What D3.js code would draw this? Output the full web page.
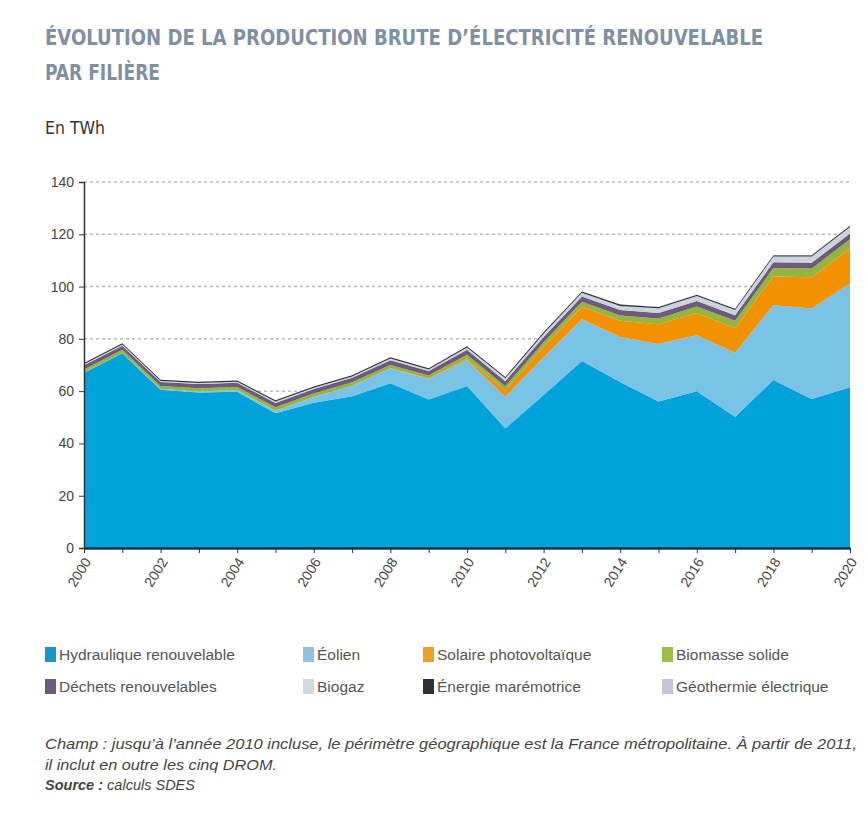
<!DOCTYPE html>
<html>
<head>
<meta charset="utf-8">
<script src="https://cdn.jsdelivr.net/npm/d3@7"></script>
<style>
  body { margin: 0; background: #fff; }
  svg { display: block; }
</style>
</head>
<body>
<div id="chart"></div>
<script>
// data, in TWh
var years = d3.range(2000, 2021);
var hydraulique = [67, 74.5, 60.5, 59.5, 59.8, 51.5, 55.6, 58, 63, 56.8, 62, 45.8, 58.5, 71.5, 63.5, 56, 60, 50.2, 64.3, 57, 61.5];
var eolien      = [0.1, 0.1, 0.3, 0.4, 0.6, 1, 2.2, 4.1, 5.7, 7.8, 9.9, 12.1, 14.5, 16, 17.2, 22, 21.4, 24.5, 28.6, 34.6, 39.7];
var solaire     = [0, 0, 0, 0, 0, 0, 0, 0, 0.04, 0.2, 0.6, 2.4, 4, 4.8, 6.2, 7.6, 8.5, 9.4, 11, 12, 13.4];
var biomasse    = [1.2, 1.2, 1.2, 1.2, 1.2, 1.3, 1.3, 1.3, 1.3, 1.2, 1.4, 1.6, 1.7, 1.9, 2, 2.2, 2.5, 2.8, 3.2, 3.3, 3.5];
var dechets     = [1.6, 1.6, 1.5, 1.6, 1.6, 1.7, 1.7, 1.7, 1.8, 1.7, 1.9, 1.9, 2, 2, 2.1, 2.1, 2.1, 2.1, 2.2, 2.2, 2.2];
var biogaz      = [0.4, 0.4, 0.4, 0.4, 0.4, 0.5, 0.5, 0.5, 0.6, 0.6, 0.9, 1.1, 1.3, 1.4, 1.6, 1.8, 1.9, 2, 2.2, 2.4, 2.5];
var maremotrice = [0.5, 0.5, 0.5, 0.5, 0.5, 0.5, 0.5, 0.5, 0.5, 0.5, 0.5, 0.5, 0.5, 0.5, 0.5, 0.5, 0.5, 0.5, 0.5, 0.5, 0.5];
var geothermie  = [0, 0, 0, 0, 0, 0, 0, 0, 0, 0, 0, 0.05, 0.05, 0.05, 0.05, 0.1, 0.1, 0.1, 0.1, 0.1, 0.1];

var seriesNames = ["Hydraulique renouvelable", "Éolien", "Solaire photovoltaïque", "Biomasse solide",
                   "Déchets renouvelables", "Biogaz", "Énergie marémotrice", "Géothermie électrique"];
var seriesValues = [hydraulique, eolien, solaire, biomasse, dechets, biogaz, maremotrice, geothermie];
var colors = ["#00a2db", "#79c3e6", "#f39200", "#97b53c", "#6c5b7b", "#cdd3dc", "#2c3039", "#c9bdd8"];
var legendColors = ["#1a95c9", "#8ec3dc", "#eaa224", "#9dbb47", "#6c5b7b", "#d3d7de", "#2c3039", "#cbc0da"];
var yTicks = [0, 20, 40, 60, 80, 100, 120, 140];

// build rows for d3.stack
var rows = years.map(function(y, i) {
  var r = {year: y};
  seriesNames.forEach(function(n, k) { r[n] = seriesValues[k][i]; });
  return r;
});

var W = 866, H = 839;
var margin = {top: 182, left: 84, right: 16, bottom: 291};
var width = W - margin.left - margin.right,
    height = H - margin.top - margin.bottom;

var svg = d3.select("#chart").append("svg")
    .attr("width", W)
    .attr("height", H);

// title
var titleFont = "'Liberation Sans Narrow', 'DejaVu Sans Condensed', 'Liberation Sans', sans-serif";
svg.append("text")
    .attr("x", 45).attr("y", 45)
    .attr("textLength", 718).attr("lengthAdjust", "spacingAndGlyphs")
    .style("font-family", titleFont).style("font-weight", "bold")
    .style("font-size", "21px").style("fill", "#7f90a4")
    .text("ÉVOLUTION DE LA PRODUCTION BRUTE D’ÉLECTRICITÉ RENOUVELABLE");
svg.append("text")
    .attr("x", 45).attr("y", 80)
    .attr("textLength", 115).attr("lengthAdjust", "spacingAndGlyphs")
    .style("font-family", titleFont).style("font-weight", "bold")
    .style("font-size", "21px").style("fill", "#7f90a4")
    .text("PAR FILIÈRE");
svg.append("text")
    .attr("x", 45).attr("y", 134)
    .attr("textLength", 60).attr("lengthAdjust", "spacingAndGlyphs")
    .style("font-family", titleFont)
    .style("font-size", "18px").style("fill", "#333")
    .text("En TWh");

var g = svg.append("g")
    .attr("transform", "translate(" + margin.left + "," + margin.top + ")");

var x = d3.scaleLinear().domain([2000, 2020]).range([0, width]);
var y = d3.scaleLinear().domain([0, 140]).range([height, 0]);

// dotted gridlines
g.selectAll(".grid")
    .data(yTicks.filter(function(d) { return d > 0; }))
  .enter().append("line")
    .attr("x1", 0).attr("x2", width)
    .attr("y1", function(d) { return y(d); })
    .attr("y2", function(d) { return y(d); })
    .attr("stroke", "#b9b9b9")
    .attr("stroke-width", 1.5)
    .attr("stroke-dasharray", "3,3");

// stacked areas
var stack = d3.stack().keys(seriesNames);
var layers = stack(rows);
var area = d3.area()
    .x(function(d) { return x(d.data.year); })
    .y0(function(d) { return y(d[0]); })
    .y1(function(d) { return y(d[1]); });

g.selectAll(".layer")
    .data(layers)
  .enter().append("path")
    .attr("class", "layer")
    .attr("fill", function(d, i) { return colors[i]; })
    .attr("d", area);

// y axis
var yAxis = d3.axisLeft(y).tickValues(yTicks).tickSize(5).tickPadding(5);
var ya = g.append("g").call(yAxis);
ya.select(".domain").attr("stroke", "#333").attr("stroke-width", 1.5);
ya.selectAll(".tick line").attr("stroke", "#333");
ya.selectAll("text")
    .style("font-family", "'Liberation Sans', sans-serif")
    .style("font-size", "14px").style("fill", "#444");

// x axis
var xAxis = d3.axisBottom(x).tickValues(years).tickSize(5).tickSizeOuter(0)
    .tickFormat(function(d) { return d % 2 === 0 ? d : ""; });
var xa = g.append("g")
    .attr("transform", "translate(0," + height + ")")
    .call(xAxis);
xa.select(".domain").attr("stroke", "#1d3440").attr("stroke-width", 2.5);
xa.selectAll(".tick line").attr("stroke", "#333");
xa.selectAll("text")
    .style("font-family", "'Liberation Sans', sans-serif")
    .style("font-size", "14px").style("fill", "#444")
    .style("text-anchor", "end")
    .attr("y", 0).attr("dy", "0.35em")
    .attr("transform", "translate(3,11) rotate(-58)");

// legend
var legendCols = [45, 303, 423, 662];
var legendRows = [660, 692];
var leg = svg.selectAll(".leg")
    .data(seriesNames)
  .enter().append("g")
    .attr("class", "leg")
    .attr("transform", function(d, i) {
      return "translate(" + legendCols[i % 4] + "," + legendRows[Math.floor(i / 4)] + ")";
    });
leg.append("rect")
    .attr("x", 0).attr("y", -13)
    .attr("width", 11).attr("height", 15)
    .attr("fill", function(d, i) { return legendColors[i]; });
leg.append("text")
    .attr("x", 14).attr("y", 0)
    .style("font-family", "'Liberation Sans', sans-serif")
    .style("font-size", "15.5px").style("fill", "#555")
    .text(function(d) { return d; });

// footnote
var note = svg.append("g")
    .style("font-family", "'Liberation Sans', sans-serif")
    .style("font-style", "italic").style("font-size", "14px").style("fill", "#444");
note.append("text")
    .attr("x", 45).attr("y", 749)
    .attr("textLength", 812).attr("lengthAdjust", "spacingAndGlyphs")
    .text("Champ : jusqu’à l’année 2010 incluse, le périmètre géographique est la France métropolitaine. À partir de 2011,");
note.append("text")
    .attr("x", 45).attr("y", 770)
    .attr("textLength", 232).attr("lengthAdjust", "spacingAndGlyphs")
    .text("il inclut en outre les cinq DROM.");
var src = note.append("text").attr("x", 45).attr("y", 790)
    .attr("textLength", 150).attr("lengthAdjust", "spacingAndGlyphs");
src.append("tspan").style("font-weight", "bold").text("Source : ");
src.append("tspan").text("calculs SDES");
</script>
</body>
</html>
